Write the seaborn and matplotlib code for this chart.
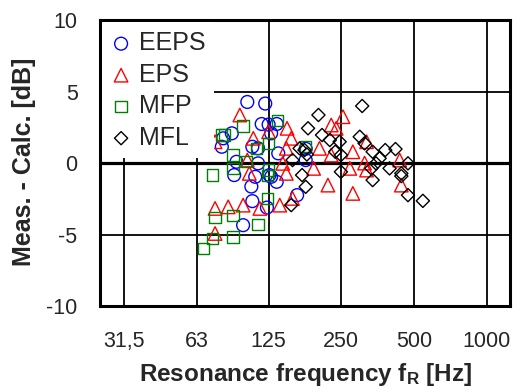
import pandas as pd
import matplotlib
matplotlib.use('Agg')
import matplotlib.pyplot as plt
from matplotlib.ticker import FixedLocator, NullLocator, FixedFormatter
import seaborn as sns

# data: resonance frequency [Hz] and Meas. - Calc. [dB]
eeps_f = [102, 121, 117, 125, 135, 128, 88, 81, 80, 92, 90, 107, 113, 113,
          110, 106, 107, 123, 128, 135, 137, 98, 164, 178, 178, 126]
eeps_d = [4.27, 4.16, 2.73, 2.69, 2.73, 2.08, 2.08, 1.73, 1.14, 0.09, -0.84,
          1.14, 1.03, -0.02, -0.96, -1.64, -2.66, -3.11, -0.96, -1.31, 0.68,
          -4.34, -2.24, 0.21, 1.0, -0.84]

eps_f = [95, 75, 108, 125, 104, 102, 75, 75, 85, 98, 115, 254, 227, 238, 149,
         155, 203, 148, 279, 318, 143, 192, 271, 318, 220, 279, 436, 443, 139,
         157, 148, 227, 312]
eps_d = [3.36, 1.49, 1.73, 2.19, -0.72, 0.21, -3.17, -4.92, -3.06, -2.94,
         -3.17, 3.24, 2.66, 2.43, 2.43, 1.73, 1.03, 1.03, 0.79, 1.49, -0.02,
         -0.37, -0.37, -0.49, -1.54, -2.12, 0.21, -1.54, -2.94, -2.47, -0.72,
         0.56, 0.0]

mfp_f = [67, 73, 75, 89, 89, 73, 80, 82, 98, 89, 89, 101, 111, 125, 125, 124,
         124, 136, 113, 178]
mfp_d = [-5.97, -5.27, -3.8, -3.64, -5.17, -0.84, 1.96, 1.96, 2.59, 0.56,
         -0.38, 0.09, 1.03, 1.38, -0.49, -0.87, -2.47, 2.96, -4.27, 1.14]

mfl_f = [305, 201, 182, 208, 224, 246, 298, 312, 168, 176, 157, 236, 249, 337,
         380, 419, 360, 348, 333, 396, 472, 249, 172, 443, 443, 337, 178, 472,
         544, 155, 180]
mfl_d = [3.99, 3.36, 2.43, 1.96, 1.61, 1.49, 1.84, 1.38, 1.03, 0.91, 0.21,
         0.79, 0.56, 0.79, 0.91, 0.98, 0.33, -0.02, -0.37, -0.37, -0.02, -0.61,
         -0.84, -0.72, -0.91, -1.19, -1.66, -2.24, -2.64, -2.94, 0.6]

x_ticks = [31.5, 63, 125, 250, 500, 1000]
x_labels = ['31,5', '63', '125', '250', '500', '1000']
y_ticks = [-10, -5, 0, 5, 10]

sns.set_style('white')
plt.rcParams['font.family'] = ['Liberation Sans', 'DejaVu Sans']
plt.rcParams['mathtext.fontset'] = 'custom'
plt.rcParams['mathtext.rm'] = 'Liberation Sans'
plt.rcParams['mathtext.bf'] = 'Liberation Sans:bold'

fig = plt.figure(figsize=(5.2, 3.92), dpi=100)
ax = fig.add_axes([0.192, 0.219, 0.789, 0.730])

series = [('EEPS', eeps_f, eeps_d, 'o', 'blue', 85),
          ('EPS', eps_f, eps_d, '^', 'red', 95),
          ('MFP', mfp_f, mfp_d, 's', 'green', 66),
          ('MFL', mfl_f, mfl_d, 'D', 'black', 45)]

for name, f, d, mk, col, sz in series:
    df = pd.DataFrame({'f': f, 'd': d})
    sns.scatterplot(data=df, x='f', y='d', marker=mk, s=sz, facecolor='none',
                    edgecolor=col, linewidth=1.0, label=name, ax=ax, zorder=3)

ax.set_xscale('log')
ax.set_xlim(25, 1250)
ax.set_ylim(-10, 10)
ax.xaxis.set_major_locator(FixedLocator(x_ticks))
ax.xaxis.set_major_formatter(FixedFormatter(x_labels))
ax.xaxis.set_minor_locator(NullLocator())
ax.set_yticks(y_ticks)
ax.set_yticklabels(['-10', '-5', '0', '5', '10'])

ax.grid(True, color='black', linewidth=1.3)
ax.set_axisbelow(True)
ax.axhline(0, color='black', linewidth=2.3, zorder=2)
for s in ax.spines.values():
    s.set_linewidth(2.2)
    s.set_color('black')

ax.tick_params(axis='x', length=0, pad=18, labelsize=15.5)
ax.tick_params(axis='y', length=0, pad=16, labelsize=15.5)

ax.set_xlabel(r'Resonance frequency $\mathbf{f_R}$ [Hz]', fontsize=17.5,
              fontweight='bold')
ax.xaxis.set_label_coords(0.502, -0.19)
ax.set_ylabel('Meas. - Calc. [dB]', fontsize=18, fontweight='bold')
ax.yaxis.set_label_coords(-0.155, 0.503)

leg = ax.legend(loc='upper left', fontsize=18, frameon=True, fancybox=False,
                framealpha=1, facecolor='white', edgecolor='none',
                borderaxespad=0.1, borderpad=0.35, handlelength=0.8,
                handletextpad=0.3, labelspacing=0.3)
leg.set_zorder(5)

fig.savefig('out.png', dpi=100)
